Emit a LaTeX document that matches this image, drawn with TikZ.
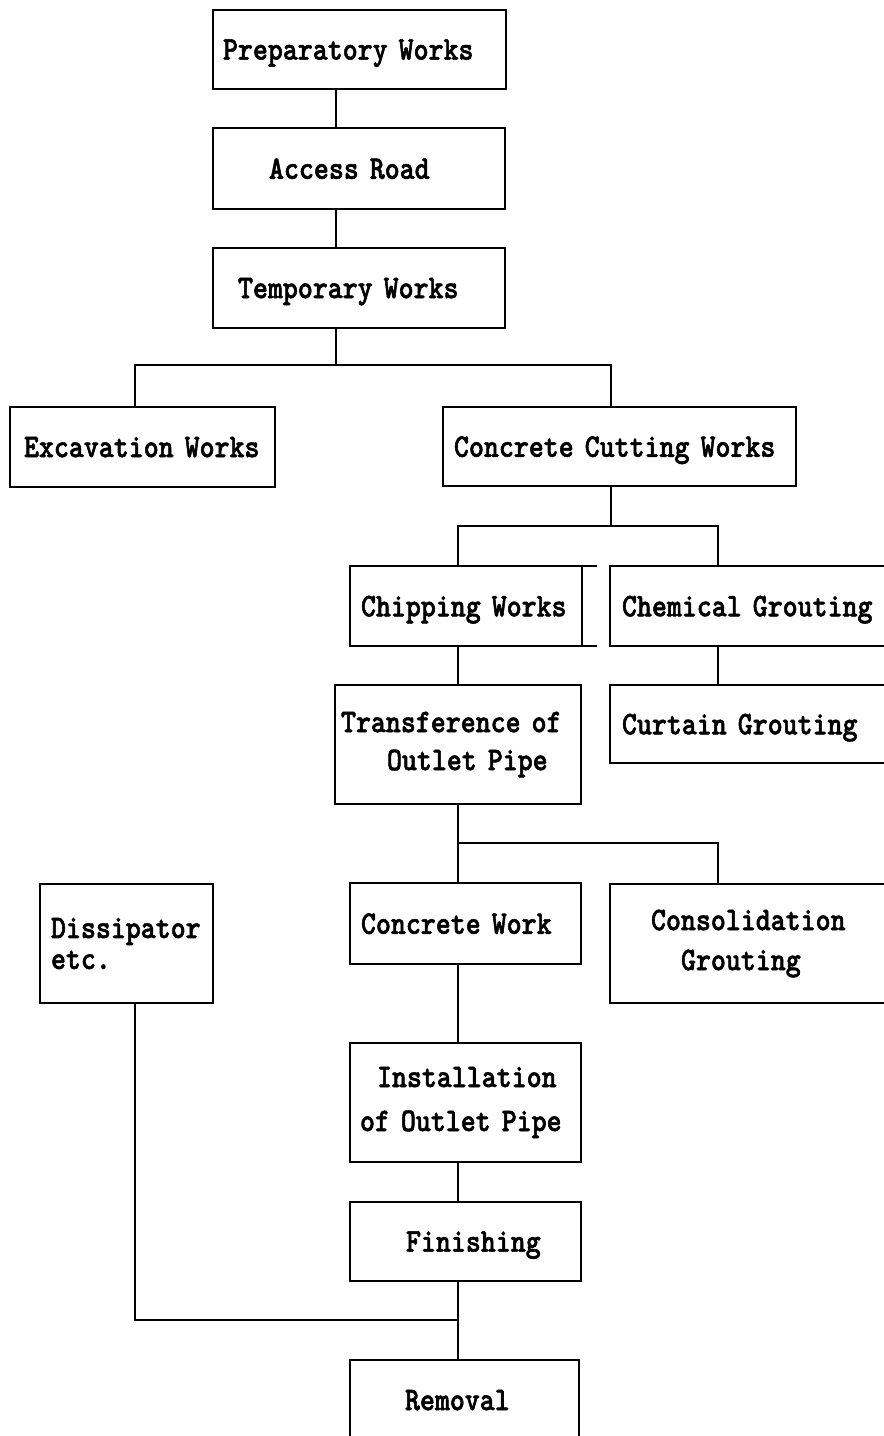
\documentclass[tikz,border=0pt]{standalone}
\usepackage{fontspec}
\newfontfamily\twfont{lmmonolt10-bold.otf}[FakeStretch=0.864, FakeBold=1.6]
\tikzset{
  box/.style={draw, line width=1.8pt, anchor=north west, inner xsep=0pt, inner ysep=0pt,
    outer sep=0pt, align=left, font=\twfont\fontsize{33pt}{40pt}\selectfont},
  onebox/.style={box, text depth=0pt},
  conn/.style={line width=1.8pt},
}
\begin{document}
\begin{tikzpicture}[x=1pt,y=-1pt]
\fill[white] (0,0) rectangle (884,1436);
\useasboundingbox (0,0) rectangle (884,1436);
\clip (0,0) rectangle (884,1436);
% vertical line positions
\coordinate (xa) at (135,0);
\coordinate (xb) at (336,0);
\coordinate (xc) at (611,0);
\coordinate (xd) at (458,0);
\coordinate (xe) at (718,0);
% boxes
\node[onebox, text width=293pt, minimum height=79pt] (prep) at (213,10) {\hspace*{10pt}Preparatory Works};
\node[onebox, text width=292pt, minimum height=81pt] (access) at (213,128) {\hspace*{56pt}Access Road};
\node[onebox, text width=292pt, minimum height=80pt] (temp) at (213,248) {\hspace*{25pt}Temporary Works};
\node[onebox, text width=265pt, minimum height=80pt] (excav) at (10,407) {\hspace*{14pt}Excavation Works};
\node[onebox, text width=353pt, minimum height=79pt] (cut) at (443,407) {\hspace*{11pt}Concrete Cutting Works};
\node[onebox, text width=232pt, minimum height=80pt] (chip) at (350,566) {\hspace*{11pt}Chipping Works};
\node[onebox, text width=300pt, minimum height=80pt] (chem) at (610,566) {\hspace*{12pt}Chemical Grouting};
\node[onebox, text width=300pt, minimum height=78pt] (curt) at (610,685) {\hspace*{12pt}Curtain Grouting};
\node[box, text width=246pt, minimum height=119pt, font=\twfont\fontsize{33pt}{38pt}\selectfont] (trans) at (335,685) {\hspace*{6pt}Transference of\\\hspace*{52pt}Outlet Pipe};
\node[box, text width=173pt, minimum height=119pt, font=\twfont\fontsize{33pt}{31pt}\selectfont] (diss) at (40,884) {\hspace*{11pt}Dissipator\\\hspace*{11pt}etc.};
\node[onebox, text width=231pt, minimum height=81pt] (cwork) at (350,883) {\hspace*{11pt}Concrete Work};
\node[box, text width=300pt, minimum height=119pt] (cons) at (610,884) {\hspace*{41pt}Consolidation\\\hspace*{71pt}Grouting};
\node[box, text width=231pt, minimum height=119pt, font=\twfont\fontsize{33pt}{44pt}\selectfont] (inst) at (350,1043) {\hspace*{27pt}Installation\\\hspace*{10pt}of Outlet Pipe};
\node[onebox, text width=231pt, minimum height=79pt] (fin) at (350,1202) {\hspace*{56pt}Finishing};
\node[onebox, text width=229pt, minimum height=80pt] (rem) at (350,1360) {\hspace*{55pt}Removal};
% extra edge stubs on Chipping Works box
\draw[conn] (chip.north east) -- ++(15,0);
\draw[conn] (chip.south east) -- ++(15,0);
% junctions
\coordinate (j1) at (336,365);
\coordinate (j2) at (611,526);
\coordinate (j3) at (458,843);
\coordinate (j4) at (458,1320);
% connectors
\draw[conn] (prep.south -| xb) -- (access.north -| xb);
\draw[conn] (access.south -| xb) -- (temp.north -| xb);
\draw[conn] (temp.south -| xb) -- (j1);
\draw[conn] (excav.north -| xa) |- (j1) -| (cut.north -| xc);
\draw[conn] (cut.south -| xc) -- (j2);
\draw[conn] (chip.north -| xd) |- (j2) -| (chem.north -| xe);
\draw[conn] (chip.south -| xd) -- (trans.north -| xd);
\draw[conn] (chem.south -| xe) -- (curt.north -| xe);
\draw[conn] (trans.south -| xd) -- (cwork.north -| xd);
\draw[conn] (j3) -| (cons.north -| xe);
\draw[conn] (cwork.south -| xd) -- (inst.north -| xd);
\draw[conn] (inst.south -| xd) -- (fin.north -| xd);
\draw[conn] (fin.south -| xd) -- (rem.north -| xd);
\draw[conn] (diss.south -| xa) |- (j4);
\end{tikzpicture}
\end{document}
